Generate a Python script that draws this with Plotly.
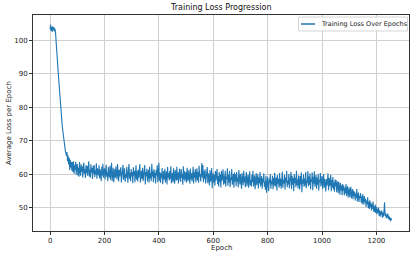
import plotly.graph_objects as go

# Average loss per epoch (every 2nd epoch)
loss_values = [
    103.2, 104.6, 102.7, 103.9, 102.5, 104.1, 103.0, 103.8, 102.6, 103.4,
    102.0, 100.1, 97.6, 95.2, 92.7, 90.1, 87.8, 85.2, 83.0, 80.9,
    78.6, 76.9, 75.0, 73.4, 71.7, 70.5, 69.0, 68.2, 66.9, 66.3,
    65.4, 66.6, 63.8, 65.5, 62.9, 64.9, 61.2, 64.3, 62.0, 63.6,
    61.0, 63.6, 60.6, 63.8, 60.1, 62.6, 61.2, 63.7, 59.8, 62.5,
    63.0, 59.6, 61.9, 59.2, 63.6, 61.0, 59.5, 62.9, 60.6, 62.3,
    59.0, 61.8, 63.4, 60.1, 61.4, 58.8, 62.6, 60.3, 62.5, 59.5,
    61.6, 63.8, 59.3, 61.3, 58.9, 62.9, 60.4, 61.8, 58.5, 62.4,
    60.2, 62.7, 59.1, 61.1, 59.9, 63.2, 58.6, 61.7, 60.7, 59.6,
    62.6, 58.7, 61.4, 60.0, 57.9, 62.2, 59.6, 63.1, 58.9, 60.6,
    61.7, 58.4, 60.9, 62.8, 59.2, 60.5, 57.9, 62.1, 59.8, 59.0,
    62.5, 58.3, 60.6, 63.4, 57.9, 61.0, 61.9, 57.6, 60.2, 61.5,
    58.9, 62.3, 59.8, 58.4, 63.0, 60.4, 57.8, 61.3, 59.3, 61.0,
    62.0, 57.5, 60.1, 59.4, 62.8, 58.3, 60.7, 61.7, 57.7, 59.9,
    58.8, 62.2, 59.7, 57.4, 61.2, 63.0, 58.6, 60.4, 57.9, 61.5,
    59.3, 60.5, 57.3, 62.0, 59.6, 61.0, 57.6, 59.1, 62.6, 58.3,
    60.8, 57.8, 61.3, 58.9, 60.2, 63.0, 57.5, 59.7, 61.0, 58.6,
    61.9, 57.9, 59.9, 59.2, 62.7, 56.9, 60.6, 59.4, 61.6, 57.8,
    59.8, 61.3, 57.4, 62.2, 58.8, 60.3, 57.9, 63.1, 59.3, 60.8,
    57.6, 61.5, 58.9, 60.4, 57.2, 61.2, 59.6, 62.6, 57.6, 59.3,
    63.4, 58.0, 60.5, 57.4, 60.2, 58.9, 61.8, 57.0, 59.6, 60.9,
    58.4, 61.6, 57.5, 59.6, 60.8, 56.9, 62.1, 58.9, 60.3, 58.1,
    60.9, 58.6, 62.3, 57.3, 59.9, 60.4, 57.6, 61.7, 59.0, 57.1,
    61.2, 59.3, 58.0, 62.2, 58.3, 60.5, 57.2, 59.5, 61.6, 58.8,
    57.7, 61.5, 58.9, 60.0, 56.8, 62.3, 58.5, 60.8, 57.8, 59.8,
    60.7, 57.4, 61.9, 58.8, 58.0, 61.1, 59.4, 57.1, 61.6, 58.5,
    60.2, 57.8, 59.6, 62.2, 57.2, 60.5, 58.9, 61.5, 57.6, 59.7,
    61.7, 58.1, 60.6, 57.4, 62.5, 59.2, 60.0, 57.8, 62.0, 63.3,
    58.9, 62.6, 57.6, 60.8, 58.6, 61.4, 57.2, 60.2, 59.3, 62.1,
    57.3, 60.2, 59.2, 56.6, 61.1, 57.7, 58.8, 61.8, 55.8, 58.6,
    60.4, 57.4, 59.8, 56.5, 60.9, 58.1, 59.1, 61.5, 57.0, 59.4,
    56.3, 60.6, 57.6, 59.9, 56.0, 61.0, 58.0, 59.0, 61.4, 56.8,
    59.6, 57.2, 61.0, 56.3, 59.2, 58.5, 61.7, 56.5, 59.8, 57.5,
    60.9, 56.1, 59.0, 58.2, 61.5, 56.8, 58.1, 60.0, 55.9, 60.5,
    57.8, 59.9, 56.4, 60.6, 57.7, 59.0, 56.0, 61.2, 58.6, 56.9,
    60.0, 57.2, 55.6, 60.3, 58.4, 56.7, 61.0, 57.6, 59.3, 56.1,
    59.0, 60.6, 56.4, 57.8, 59.8, 55.9, 58.9, 60.8, 56.7, 58.2,
    56.2, 59.8, 57.6, 61.0, 56.3, 58.6, 59.6, 55.5, 58.5, 60.3,
    56.7, 57.9, 59.9, 55.7, 59.0, 57.3, 60.6, 56.3, 58.2, 59.4,
    55.6, 58.7, 57.6, 60.2, 56.2, 57.8, 55.3, 59.5, 54.4, 57.2,
    59.2, 56.4, 54.9, 58.6, 57.3, 60.0, 55.6, 58.0, 56.9, 59.5,
    55.5, 58.8, 56.7, 60.4, 56.2, 57.7, 59.0, 55.1, 59.7, 57.1,
    58.5, 55.9, 60.3, 56.5, 58.7, 55.6, 57.9, 60.7, 55.9, 58.2,
    57.2, 59.8, 55.3, 58.9, 57.5, 61.0, 56.1, 58.0, 56.9, 60.0,
    55.8, 58.5, 57.6, 60.7, 55.5, 59.5, 56.8, 58.8, 54.9, 60.0,
    57.3, 59.0, 56.1, 61.0, 56.7, 58.4, 55.7, 59.6, 57.8, 55.4,
    59.4, 56.9, 60.5, 54.6, 58.4, 57.1, 59.9, 56.2, 58.7, 56.6,
    60.6, 55.8, 58.1, 57.4, 60.9, 56.4, 59.3, 56.8, 60.2, 55.5,
    58.5, 57.7, 60.5, 55.2, 59.2, 57.1, 60.8, 56.2, 57.9, 59.7,
    55.6, 58.9, 56.8, 60.0, 55.1, 58.2, 57.6, 60.3, 56.3, 57.8,
    59.4, 55.5, 57.5, 60.0, 55.9, 58.6, 57.0, 54.8, 58.5, 56.5,
    57.9, 60.2, 55.2, 58.9, 56.4, 57.3, 59.8, 54.9, 58.2, 56.0,
    59.1, 55.4, 57.5, 54.7, 58.4, 56.3, 58.2, 54.6, 56.9, 57.8,
    54.3, 57.6, 55.8, 53.8, 57.3, 55.2, 56.6, 53.7, 57.0, 55.0,
    56.5, 53.6, 55.9, 54.3, 57.0, 53.5, 55.3, 56.4, 53.0, 55.0,
    56.0, 53.1, 54.6, 56.2, 52.7, 54.4, 55.5, 52.5, 55.1, 53.4,
    54.7, 52.1, 54.2, 52.9, 55.5, 51.8, 53.6, 54.5, 51.7, 53.5,
    53.0, 54.3, 51.5, 53.4, 51.0, 54.0, 52.1, 50.9, 53.4, 51.6,
    52.6, 50.2, 52.1, 51.0, 53.1, 49.9, 51.7, 49.6, 52.2, 50.1,
    51.5, 49.1, 51.0, 49.7, 51.8, 48.8, 50.4, 48.6, 50.9, 48.4,
    50.2, 48.0, 49.6, 48.5, 50.1, 47.6, 49.2, 47.3, 48.9, 47.9,
    49.1, 47.0, 48.5, 47.3, 48.8, 51.6, 47.5, 48.3, 46.8, 47.9,
    47.1, 48.2, 46.6, 47.5, 46.3, 47.1, 45.9, 46.8, 46.3,
]
epochs = list(range(0, 2 * len(loss_values), 2))

x_ticks = [0, 200, 400, 600, 800, 1000, 1200]
y_ticks = [50, 60, 70, 80, 90, 100]

title_text = "Training Loss Progression"
x_label = "Epoch"
y_label = "Average Loss per Epoch"
series_name = "Training Loss Over Epochs"

LINE_COLOR = "#1f77b4"
FONT = "DejaVu Sans"
W, H = 416, 253
ML, MR, MT, MB = 33, 7, 15, 22
PW, PH = W - ML - MR, H - MT - MB


def px(xpix):
    return (xpix - ML) / PW


def py(ypix):
    return 1 - (ypix - MT) / PH


fig = go.Figure()
fig.add_trace(go.Scatter(
    x=epochs, y=loss_values, mode="lines", name=series_name,
    line=dict(color=LINE_COLOR, width=1.1), showlegend=False,
))

axis_common = dict(
    showgrid=True, gridcolor="#d0d0d0", gridwidth=1,
    showline=True, linecolor="#333333", linewidth=1, mirror=True,
    ticks="outside", ticklen=3, tickcolor="#333333",
    tickfont=dict(size=7, color="#222222", family=FONT),
    zeroline=False, automargin=False,
)

# legend box (matplotlib-style, upper right)
shapes = [
    dict(type="rect", xref="paper", yref="paper",
         x0=px(298.5), x1=px(407.5), y0=py(31), y1=py(17),
         fillcolor="rgba(255,255,255,0.85)", line=dict(color="#d5d5d5", width=1),
         layer="above"),
    dict(type="line", xref="paper", yref="paper",
         x0=px(301), x1=px(315), y0=py(24), y1=py(24),
         line=dict(color=LINE_COLOR, width=1.5), layer="above"),
]

fig.update_layout(
    width=W, height=H,
    margin=dict(l=ML, r=MR, t=MT, b=MB, autoexpand=False),
    paper_bgcolor="white", plot_bgcolor="white",
    font=dict(family=FONT, size=7, color="#222222"),
    showlegend=False,
    shapes=shapes,
    annotations=[
        dict(text=title_text, xref="paper", yref="paper", x=0.5,
             y=py(7.5), xanchor="center", yanchor="middle",
             showarrow=False, font=dict(size=8, family=FONT, color="#111111")),
        dict(text=x_label, xref="paper", yref="paper", x=0.5,
             y=py(247.5), xanchor="center", yanchor="middle",
             showarrow=False, font=dict(size=7, family=FONT, color="#222222")),
        dict(text=y_label, xref="paper", yref="paper", x=px(9),
             y=0.5, xanchor="center", yanchor="middle", textangle=-90,
             showarrow=False, font=dict(size=7, family=FONT, color="#222222")),
        dict(text=series_name, xref="paper", yref="paper", x=px(319),
             y=py(24), xanchor="left", yanchor="middle",
             showarrow=False, font=dict(size=6.5, family=FONT, color="#222222")),
    ],
)
fig.update_xaxes(**axis_common, range=[-63, 1320], tickvals=x_ticks)
fig.update_yaxes(**axis_common, range=[43.0, 107.5], tickvals=y_ticks)

fig.write_html(
    "out.html",
    config={"displayModeBar": False},
    post_script="document.body.style.margin='0';document.body.style.padding='0';",
)
